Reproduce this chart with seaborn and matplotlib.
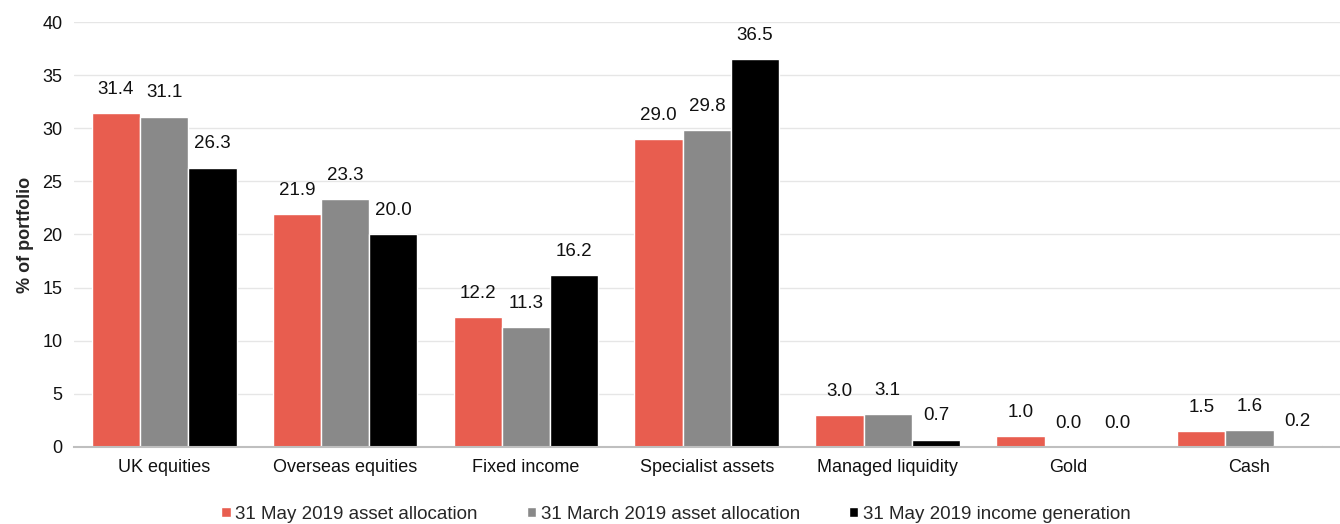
import numpy as np
import pandas as pd
import matplotlib
matplotlib.use("Agg")
import matplotlib.pyplot as plt
from matplotlib.ticker import FixedLocator
import seaborn as sns

categories = ["UK equities", "Overseas equities", "Fixed income", "Specialist assets",
              "Managed liquidity", "Gold", "Cash"]
series_names = ["31 May 2019 asset allocation", "31 March 2019 asset allocation",
                "31 May 2019 income generation"]
may_alloc = [31.4, 21.9, 12.2, 29.0, 3.0, 1.0, 1.5]
march_alloc = [31.1, 23.3, 11.3, 29.8, 3.1, 0.0, 1.6]
may_income = [26.3, 20.0, 16.2, 36.5, 0.7, 0.0, 0.2]
colors = ["#E85D4F", "#898989", "#000000"]

df = pd.DataFrame({
    "category": categories * 3,
    "series": np.repeat(series_names, len(categories)),
    "value": may_alloc + march_alloc + may_income,
})

sns.set_theme(style="white")
plt.rcParams["font.family"] = ["Liberation Sans", "DejaVu Sans"]

fig = plt.figure(figsize=(13.4, 5.24), dpi=100)
ax = fig.add_axes([0.055, 0.147, 0.945, 0.811])

sns.barplot(data=df, x="category", y="value", hue="series", order=categories,
            hue_order=series_names, palette=colors, saturation=1, width=0.8,
            edgecolor="white", linewidth=1.0, ax=ax)

for cont in ax.containers:
    ax.bar_label(cont, fmt="%.1f", padding=11, fontsize=13.5, color="#111111")

ax.set_ylim(0, 40)
ax.set_xlim(-0.5, len(categories) - 0.5)
ax.set_yticks(range(0, 41, 5))
ax.tick_params(axis="y", labelsize=13, length=0, pad=8, colors="#111111")
ax.tick_params(axis="x", which="major", labelsize=13, length=0, pad=9, colors="#111111")
ax.xaxis.set_minor_locator(FixedLocator(np.arange(-0.5, len(categories), 1.0)))
ax.tick_params(axis="x", which="minor", length=5, color="#BFBFBF", width=1)
ax.set_xlabel("")
ax.set_ylabel("% of portfolio", fontsize=13, fontweight="bold", labelpad=6)
ax.grid(axis="y", color="#E6E6E6", linewidth=1)
ax.set_axisbelow(True)
for side in ["top", "right", "left"]:
    ax.spines[side].set_visible(False)
ax.spines["bottom"].set_color("#BFBFBF")
ax.spines["bottom"].set_linewidth(1.5)

ax.legend(loc="center", bbox_to_anchor=(0.4755, -0.158), ncol=3, frameon=False,
          fontsize=13.5, handlelength=0.5, handleheight=0.5, handletextpad=0.25,
          columnspacing=2.6, borderpad=0)

fig.savefig("out.png", dpi=100)
